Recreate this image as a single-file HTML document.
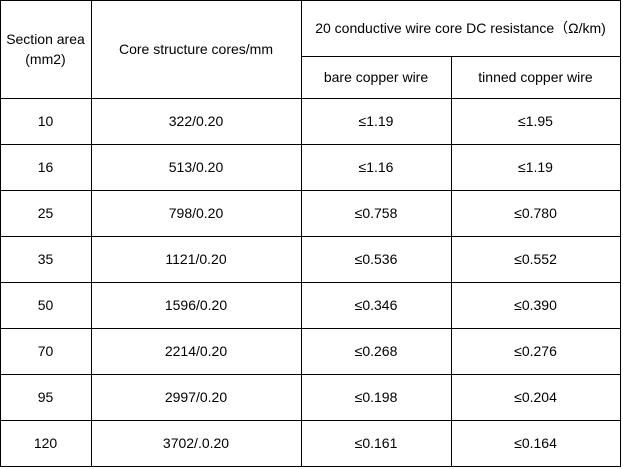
<!DOCTYPE html><html><head><style>
body{margin:0;width:623px;height:469px;background:#fff;position:relative;font-family:"Liberation Sans",Arial,sans-serif;font-size:14px;color:#000}
.h{position:absolute;height:1px;background:#000}
.v{position:absolute;width:1px;background:#000}
.t{position:absolute;display:flex;align-items:center;justify-content:center;text-align:center;line-height:20px}
</style></head><body>
<div class="h" style="left:0;top:0;width:621px"></div>
<div class="h" style="left:301px;top:56px;width:320px"></div>
<div class="h" style="left:0;top:98px;width:621px"></div>
<div class="h" style="left:0;top:144px;width:621px"></div>
<div class="h" style="left:0;top:190px;width:621px"></div>
<div class="h" style="left:0;top:236px;width:621px"></div>
<div class="h" style="left:0;top:282px;width:621px"></div>
<div class="h" style="left:0;top:328px;width:621px"></div>
<div class="h" style="left:0;top:374px;width:621px"></div>
<div class="h" style="left:0;top:420px;width:621px"></div>
<div class="h" style="left:0;top:466px;width:621px"></div>
<div class="v" style="left:0;top:0;height:467px"></div>
<div class="v" style="left:91px;top:0;height:467px"></div>
<div class="v" style="left:301px;top:0;height:467px"></div>
<div class="v" style="left:451px;top:56px;height:411px"></div>
<div class="v" style="left:620px;top:0;height:467px"></div>
<div class="t" style="left:0;top:0;width:91px;height:98px">Section area<br>(mm2)</div>
<div class="t" style="left:91px;top:0;width:210px;height:98px">Core structure cores/mm</div>
<div class="t" style="left:301px;top:0;width:319px;height:56px">20 conductive wire core DC resistance（Ω/km)</div>
<div class="t" style="left:301px;top:56px;width:150px;height:42px">bare copper wire</div>
<div class="t" style="left:451px;top:56px;width:169px;height:42px">tinned copper wire</div>
<div id="rows"></div>
<script>
var d=[["10","322/0.20","≤1.19","≤1.95"],["16","513/0.20","≤1.16","≤1.19"],["25","798/0.20","≤0.758","≤0.780"],["35","1121/0.20","≤0.536","≤0.552"],["50","1596/0.20","≤0.346","≤0.390"],["70","2214/0.20","≤0.268","≤0.276"],["95","2997/0.20","≤0.198","≤0.204"],["120","3702/.0.20","≤0.161","≤0.164"]];
var x=[0,91,301,451,620],h="";
d.forEach(function(r,i){r.forEach(function(c,j){h+='<div class="t" style="left:'+x[j]+'px;top:'+(98+46*i)+'px;width:'+(x[j+1]-x[j])+'px;height:46px">'+c+'</div>';});});
document.getElementById("rows").innerHTML=h;
</script>
</body></html>
